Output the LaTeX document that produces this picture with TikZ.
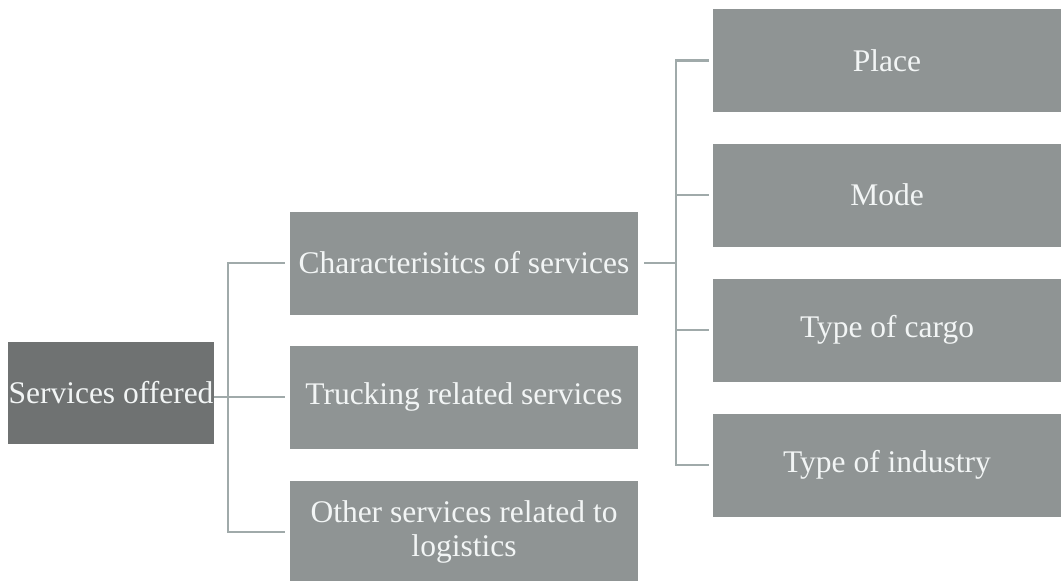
\documentclass[tikz,border=0pt]{standalone}
\usepackage{fontspec}
\setmainfont{Liberation Serif}
\begin{document}
\begin{tikzpicture}[x=1pt,y=-1pt,
  box/.style={rectangle, fill=boxgray, text=boxtext, inner sep=0pt,
    minimum width=348pt, minimum height=103pt, align=center,
    font=\fontsize{31.5}{34}\selectfont},
  rootbox/.style={box, fill=rootgray, minimum width=206pt, minimum height=102pt},
  link/.style={draw=linegray, line width=2.2pt}]
\definecolor{boxgray}{HTML}{8F9494}
\definecolor{rootgray}{HTML}{6F7272}
\definecolor{boxtext}{HTML}{F2F5F5}
\definecolor{linegray}{HTML}{A0AAAA}
\useasboundingbox[fill=white] (0,0) rectangle (1061,581);

% first level
\node[rootbox] (so) at (111,393) {Services offered};
\node[box] (ch) at (464,263) {Characterisitcs of services};
\node[box] (tr) at (464,397) {Trucking related services};
\node[box] (ot) at (464,532) {Other services related to\\logistics};

% second level
\node[box] (pl) at (887,60.5) {Place};
\node[box] (mo) at (887,195) {Mode};
\node[box] (cg) at (887,330) {Type of cargo};
\node[box] (in) at (887,465) {Type of industry};

% connectors from the root
\draw[link] ([yshift=-4pt]so.east) -- ++(14,0) |- ([xshift=-5pt]ch.west);
\draw[link] ([yshift=-4pt]so.east) -- ++(14,0) |- ([xshift=-5pt]tr.west);
\draw[link] ([yshift=-4pt]so.east) -- ++(14,0) |- ([xshift=-5pt]ot.west);

% connectors from the characteristics box
\draw[link] ([xshift=6pt]ch.east) -- ++(32,0) |- ([xshift=-4pt]pl.west);
\draw[link] ([xshift=6pt]ch.east) -- ++(32,0) |- ([xshift=-4pt]mo.west);
\draw[link] ([xshift=6pt]ch.east) -- ++(32,0) |- ([xshift=-4pt]cg.west);
\draw[link] ([xshift=6pt]ch.east) -- ++(32,0) |- ([xshift=-4pt]in.west);
\end{tikzpicture}
\end{document}
